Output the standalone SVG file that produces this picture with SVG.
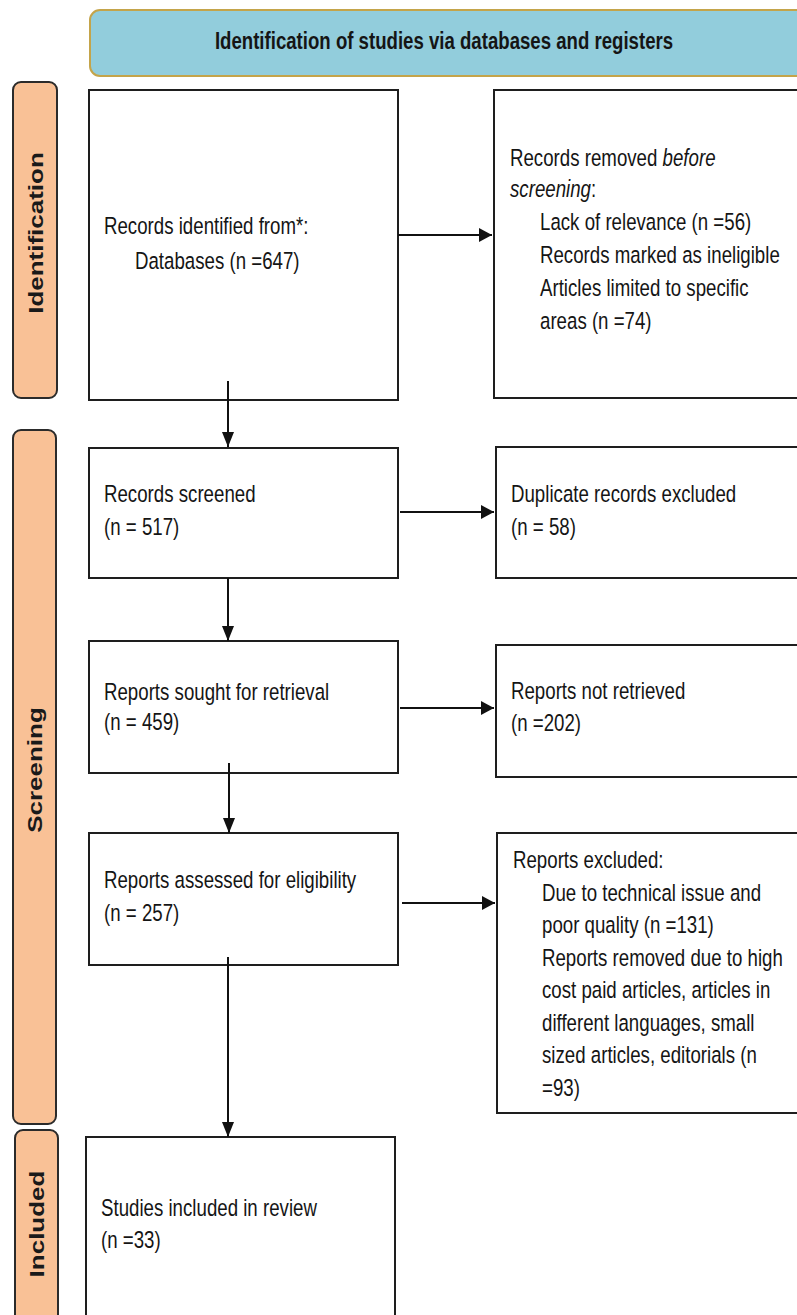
<svg xmlns="http://www.w3.org/2000/svg" width="797" height="1315" viewBox="0 0 797 1315">
<style>
.box{fill:#fff;stroke:#1e1e1e;stroke-width:2}
.bar{fill:#F9C196;stroke:#2b2b2b;stroke-width:2}
.hdr{fill:#92CDDC;stroke:#C4A44A;stroke-width:2}
.t{font-family:"Liberation Sans",Arial,sans-serif;font-size:23.5px;fill:#151515}
.h{font-family:"Liberation Sans",Arial,sans-serif;font-size:24.5px;font-weight:bold;fill:#151515}
.s{font-family:"Liberation Sans",Arial,sans-serif;font-weight:bold;font-size:26px;fill:#1a1a1a}
.c{stroke:#111;stroke-width:2;fill:none}
</style>
<defs>
<marker id="ah" markerUnits="userSpaceOnUse" markerWidth="13" markerHeight="14" refX="13" refY="7" orient="auto"><path d="M0,0 L13,7 L0,14 z" fill="#111"/></marker>
<marker id="av" markerUnits="userSpaceOnUse" markerWidth="15" markerHeight="12" refX="15" refY="6" orient="auto"><path d="M0,0 L15,6 L0,12 z" fill="#111"/></marker>
</defs>

<g id="header">
<rect class="hdr" x="90" y="10" width="730" height="66" rx="10"/>
<text class="h" text-anchor="middle" transform="translate(444,49) scale(0.76,1)">Identification of studies via databases and registers</text>
</g>

<g id="phase-identification">
<rect class="bar" x="13" y="82" width="44" height="316" rx="8"/>
<text class="s" text-anchor="middle" transform="translate(43,233) scale(0.81,1) rotate(-90)">Identification</text>
</g>
<g id="phase-screening">
<rect class="bar" x="13" y="430" width="43" height="694" rx="8"/>
<text class="s" text-anchor="middle" transform="translate(42,770) scale(0.81,1) rotate(-90)">Screening</text>
</g>
<g id="phase-included">
<rect class="bar" x="15" y="1130" width="43" height="200" rx="8"/>
<text class="s" text-anchor="middle" transform="translate(44,1224) scale(0.81,1) rotate(-90)">Included</text>
</g>

<g id="records-identified">
<rect class="box" x="89" y="90" width="309" height="310"/>
<text class="t" transform="translate(104,234) scale(0.795,1)">Records identified from*:</text>
<text class="t" transform="translate(135,269) scale(0.795,1)">Databases (n =647)</text>
</g>

<g id="records-removed">
<rect class="box" x="494" y="90" width="330" height="308"/>
<text class="t" transform="translate(510,166) scale(0.795,1)">Records removed <tspan font-style="italic">before</tspan></text>
<text class="t" transform="translate(510,197) scale(0.795,1)"><tspan font-style="italic">screening</tspan>:</text>
<text class="t" transform="translate(540,230) scale(0.795,1)">Lack of relevance (n =56)</text>
<text class="t" transform="translate(540,263) scale(0.795,1)">Records marked as ineligible</text>
<text class="t" transform="translate(540,296) scale(0.795,1)">Articles limited to specific</text>
<text class="t" transform="translate(540,329) scale(0.795,1)">areas (n =74)</text>
</g>

<g id="records-screened">
<rect class="box" x="89" y="448" width="309" height="130"/>
<text class="t" transform="translate(104,502) scale(0.795,1)">Records screened</text>
<text class="t" transform="translate(104,535) scale(0.795,1)">(n = 517)</text>
</g>

<g id="duplicates-excluded">
<rect class="box" x="496" y="447" width="330" height="131"/>
<text class="t" transform="translate(511,502) scale(0.795,1)">Duplicate records excluded</text>
<text class="t" transform="translate(511,535) scale(0.795,1)">(n = 58)</text>
</g>

<g id="reports-sought">
<rect class="box" x="89" y="641" width="309" height="132"/>
<text class="t" transform="translate(104,700) scale(0.795,1)">Reports sought for retrieval</text>
<text class="t" transform="translate(104,730) scale(0.795,1)">(n = 459)</text>
</g>

<g id="reports-not-retrieved">
<rect class="box" x="496" y="645" width="330" height="132"/>
<text class="t" transform="translate(511,699) scale(0.795,1)">Reports not retrieved</text>
<text class="t" transform="translate(511,731) scale(0.795,1)">(n =202)</text>
</g>

<g id="reports-assessed">
<rect class="box" x="89" y="833" width="309" height="132"/>
<text class="t" transform="translate(104,888) scale(0.795,1)">Reports assessed for eligibility</text>
<text class="t" transform="translate(104,921) scale(0.795,1)">(n = 257)</text>
</g>

<g id="reports-excluded">
<rect class="box" x="497" y="833" width="330" height="280"/>
<text class="t" transform="translate(513,868) scale(0.795,1)">Reports excluded:</text>
<text class="t" transform="translate(542,901) scale(0.795,1)">Due to technical issue and</text>
<text class="t" transform="translate(542,933) scale(0.795,1)">poor quality (n =131)</text>
<text class="t" transform="translate(542,966) scale(0.795,1)">Reports removed due to high</text>
<text class="t" transform="translate(542,998) scale(0.795,1)">cost paid articles, articles in</text>
<text class="t" transform="translate(542,1031) scale(0.795,1)">different languages, small</text>
<text class="t" transform="translate(542,1063) scale(0.795,1)">sized articles, editorials (n</text>
<text class="t" transform="translate(542,1096) scale(0.795,1)">=93)</text>
</g>

<g id="studies-included">
<rect class="box" x="86" y="1137" width="309" height="200"/>
<text class="t" transform="translate(101,1216) scale(0.795,1)">Studies included in review</text>
<text class="t" transform="translate(101,1248) scale(0.795,1)">(n =33)</text>
</g>

<g id="connectors">
<line class="c" x1="398" y1="235" x2="492" y2="235" marker-end="url(#ah)"/>
<line class="c" x1="228" y1="381" x2="228" y2="447" marker-end="url(#av)"/>
<line class="c" x1="400" y1="512" x2="494" y2="512" marker-end="url(#ah)"/>
<line class="c" x1="228" y1="578" x2="228" y2="641" marker-end="url(#av)"/>
<line class="c" x1="400" y1="708" x2="494" y2="708" marker-end="url(#ah)"/>
<line class="c" x1="229" y1="763" x2="229" y2="833" marker-end="url(#av)"/>
<line class="c" x1="402" y1="903" x2="495" y2="903" marker-end="url(#ah)"/>
<line class="c" x1="228" y1="957" x2="228" y2="1137" marker-end="url(#av)"/>
</g>
</svg>
